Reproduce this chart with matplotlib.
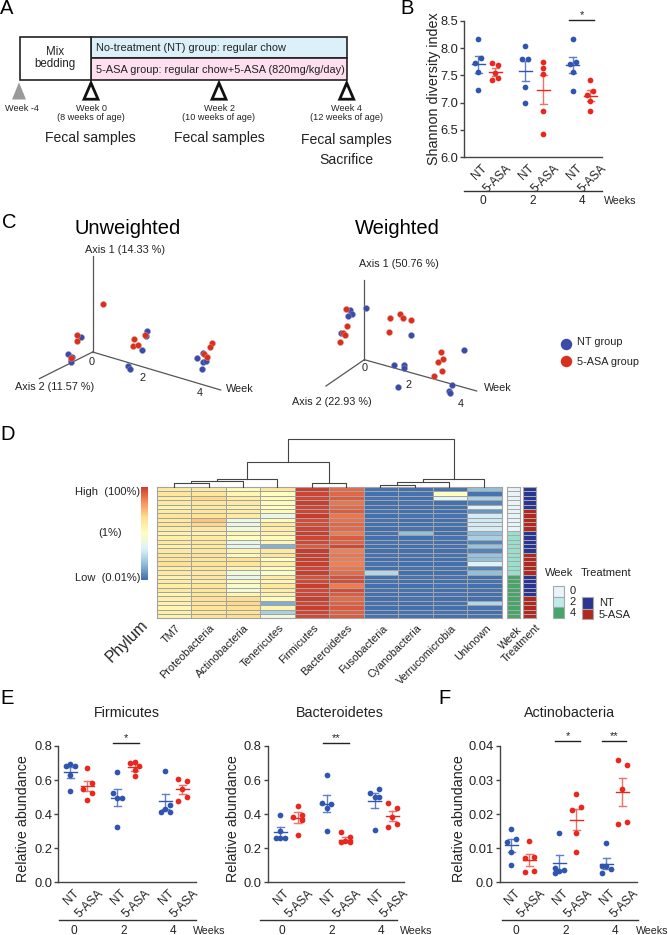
import numpy as np
import matplotlib
matplotlib.use("Agg")
import matplotlib.pyplot as plt
from matplotlib.colors import LinearSegmentedColormap, ListedColormap
from matplotlib.patches import Polygon, Rectangle

plt.rcParams["font.family"] = ["Liberation Sans", "DejaVu Sans"]

W, H = 668, 935
BLUE = "#2F55B0"
RED = "#E8281F"
BLUE_ERR = "#5F7FC8"
RED_ERR = "#F0706A"
TXT = "#222222"

# ---- data ----
group_labels = ["NT", "5-ASA", "NT", "5-ASA", "NT", "5-ASA"]
week_labels = ["0", "2", "4"]

shannon = [[8.16, 7.82, 7.72, 7.56, 7.23], [7.73, 7.69, 7.54, 7.45, 7.41],
           [8.03, 7.79, 7.79, 7.28, 7.00], [7.75, 7.63, 7.52, 6.85, 6.42],
           [8.17, 7.75, 7.71, 7.57, 7.22], [7.41, 7.21, 7.14, 7.03, 6.84]]
shannon_mean = [7.70, 7.56, 7.58, 7.24, 7.69, 7.13]
shannon_err = [0.15, 0.07, 0.19, 0.26, 0.15, 0.10]
shannon_jit = [[0, 3, -3, 0, 0], [-3, 3, 0, 3, -3], [0, -3, 3, 0, 0],
               [0, 0, 0, 0, 0], [0, 3, -3, 0, 0], [0, 3, -3, 0, 0]]

firmicutes = [[0.68, 0.695, 0.68, 0.63, 0.535], [0.67, 0.58, 0.55, 0.525, 0.485],
              [0.645, 0.525, 0.495, 0.495, 0.325], [0.70, 0.705, 0.68, 0.66, 0.625],
              [0.655, 0.455, 0.43, 0.415, 0.415], [0.605, 0.595, 0.545, 0.50, 0.475]]
firmicutes_mean = [0.645, 0.565, 0.497, 0.675, 0.475, 0.545]
firmicutes_err = [0.03, 0.03, 0.05, 0.02, 0.045, 0.025]
firmicutes_jit = [[-4.5, 0, 4.5, 0, 0], [0, 4.5, -4.5, 4.5, 0], [0, -4.5, 0, 4.5, 0],
                  [-4.5, 0, 4.5, 0, 0], [0, 4.5, 0, -4.5, 4.5], [-4.5, 4.5, 0, 4.5, -4.5]]

bacteroidetes = [[0.395, 0.30, 0.26, 0.26, 0.26], [0.445, 0.395, 0.385, 0.365, 0.28],
                 [0.63, 0.465, 0.46, 0.435, 0.30], [0.295, 0.265, 0.24, 0.235, 0.235],
                 [0.545, 0.525, 0.50, 0.50, 0.305], [0.465, 0.435, 0.385, 0.345, 0.325]]
bacteroidetes_mean = [0.295, 0.38, 0.46, 0.25, 0.48, 0.39]
bacteroidetes_err = [0.03, 0.03, 0.05, 0.015, 0.045, 0.03]
bacteroidetes_jit = [[0, 0, -4.5, 0, 4.5], [0, 4.5, -4.5, 4.5, 0], [0, -4.5, 4.5, 0, 0],
                     [-4.5, 4.5, 0, -4.5, 4.5], [4.5, -4.5, 0, 4.5, 0], [-4.5, 4.5, 0, 4.5, -4.5]]

actino = [[0.0155, 0.0128, 0.0118, 0.0088, 0.005], [0.0122, 0.0075, 0.0072, 0.0032, 0.003],
          [0.0146, 0.0043, 0.0036, 0.0034, 0.0028], [0.0258, 0.022, 0.0212, 0.0144, 0.0089],
          [0.0115, 0.0049, 0.0049, 0.0038, 0.0028], [0.036, 0.0345, 0.0274, 0.0178, 0.017]]
actino_mean = [0.0108, 0.0066, 0.0057, 0.0184, 0.0055, 0.0265]
actino_err = [0.0018, 0.0017, 0.0023, 0.003, 0.0016, 0.004]
actino_jit = [[0, 4.5, -4.5, 0, 0], [0, 4.5, -4.5, 4.5, -4.5], [0, -4.5, 4.5, 0, -4.5],
              [0, 4.5, -4.5, 0, 0], [0, -4.5, 0, 4.5, -4.5], [-4.5, 4.5, 0, 4.5, -4.5]]

# projected PCoA scores, in picture units of each plot
unw_blue_x = [242, 203, 215, 212, 214, 442, 438, 427, 384, 390, 610, 591, 608, 619, 607]
unw_blue_y = [396, 447, 455, 465, 471, 377, 393, 436, 484, 492, 445, 459, 470, 467, 493]
unw_red_x = [308, 231, 232, 213, 402, 400, 415, 434, 637, 631, 613, 620]
unw_red_y = [296, 389, 409, 459, 401, 422, 419, 389, 414, 426, 447, 455]
w_blue_x = [258, 209, 217, 204, 182, 393, 553, 341, 371, 371, 354, 517, 508, 509]
w_blue_y = [308, 315, 326, 333, 383, 391, 434, 481, 480, 489, 545, 540, 557, 565]
w_red_x = [198, 201, 190, 194, 179, 361, 370, 330, 394, 327, 482, 488, 474, 487, 463]
w_red_y = [313, 363, 383, 391, 411, 328, 340, 338, 346, 381, 440, 461, 471, 497, 513]

phyla = ["TM7", "Proteobacteria", "Actinobacteria", "Tenericutes", "Firmicutes",
         "Bacteroidetes", "Fusobacteria", "Cyanobacteria", "Verrucomicrobia", "Unknown"]
tm7 = [.61, .63, .59, .61, .57, .60, .63, .61, .64, .60, .57, .58, .61, .57, .61,
       .63, .64, .65, .59, .61, .57, .60, .58, .61, .55, .58, .57, .55, .58, .57]
proteo = [.61, .63, .68, .63, .61, .63, .65, .72, .68, .61, .57, .60, .63, .61, .63,
          .65, .63, .65, .63, .61, .63, .60, .63, .64, .63, .66, .65, .64, .63, .65]
actinob = [.53, .55, .59, .61, .57, .59, .60, .40, .38, .42, .55, .50, .38, .36, .57,
           .53, .65, .63, .56, .42, .38, .53, .46, .44, .55, .67, .68, .66, .65, .67]
teneri = [.63, .50, .53, .53, .50, .53, .38, .53, .61, .59, .57, .53, .55, .14, .61,
          .63, .50, .59, .53, .48, .60, .55, .61, .59, .57, .53, .13, .56, .22, .42]
firmi = [.99, .98, .97, .99, .98, .98, 1.0, .96, .96, .98, .99, .98, .97, .93, 1.0,
         .99, .99, .99, .98, .99, .95, .97, .99, .97, .98, .99, .97, .99, .98, .97]
bacte = [.90, .91, .93, .88, .90, .93, .88, .89, .91, .90, .87, .93, .92, .97, .86,
         .88, .87, .86, .88, .90, .95, .96, .87, .96, .93, .90, .92, .94, .92, .93]
fuso = [.01, .00, .01, .00, .00, .01, .00, .01, .00, .00, .01, .00, .01, .00, .00,
        .01, .00, .01, .00, .24, .00, .01, .00, .01, .00, .00, .01, .00, .00, .01]
cyano = [.00, .01, .00, .01, .00, .00, .01, .00, .00, .01, .17, .00, .01, .00, .00,
         .01, .00, .00, .01, .00, .01, .00, .00, .01, .00, .01, .00, .00, .01, .00]
verru = [.01, .50, .36, .00, .01, .00, .01, .00, .01, .00, .00, .01, .00, .01, .00,
         .01, .00, .00, .01, .00, .01, .00, .01, .00, .01, .00, .01, .00, .01, .00]
unknown = [.17, .01, .22, .04, .33, .08, .31, .30, .31, .31, .17, .22, .04, .18, .04,
           .18, .17, .33, .04, .17, .00, .01, .00, .01, .00, .00, .24, .01, .00, .01]
heat_columns = [tm7, proteo, actinob, teneri, firmi, bacte, fuso, cyano, verru, unknown]

week_rows = [0, 0, 0, 0, 0, 0, 0, 0, 0, 0, 1, 1, 1, 1, 1,
             1, 1, 1, 1, 1, 2, 2, 2, 2, 2, 2, 2, 2, 2, 2]
treatment_rows = [0, 0, 0, 0, 0, 1, 1, 1, 1, 1, 0, 0, 0, 0, 0,
                  1, 1, 1, 1, 1, 0, 0, 0, 0, 0, 1, 1, 1, 1, 1]

# ---- canvas ----
fig = plt.figure(figsize=(W / 100, H / 100), dpi=100)


def axes_px(left, top, right, bottom, **kw):
    return fig.add_axes([left / W, 1 - bottom / H, (right - left) / W, (bottom - top) / H], **kw)


over = axes_px(0, 0, W, H)
over.set_xlim(0, W)
over.set_ylim(H, 0)
over.axis("off")
over.set_zorder(5)
over.patch.set_alpha(0)


def label(x, y, s, size=8, ha="center", va="center", color=TXT, **kw):
    over.text(x, y, s, fontsize=size, ha=ha, va=va, color=color, **kw)


for letter, lx, ly in [("A", 0, 8), ("B", 400, 8), ("C", 2, 223), ("D", 0, 435), ("E", 0, 699), ("F", 438, 698)]:
    label(lx, ly, letter, size=14.5, ha="left", color="black")

# ---- A: schedule ----
over.add_patch(Rectangle((91, 36.7), 255.7, 21.6, fc="#DBF0F9", ec="#222222", lw=1.2))
over.add_patch(Rectangle((91, 58.3), 255.7, 22, fc="#FDDFF0", ec="#222222", lw=1.2))
over.add_patch(Rectangle((19.7, 36.7), 71.3, 43.6, fc="white", ec="#222222", lw=1.2))
label(54.7, 58, "Mix\nbedding", size=8.3, linespacing=0.95)
label(95.7, 47.7, "No-treatment (NT) group: regular chow", size=7.9, ha="left")
label(95.7, 70.3, "5-ASA group: regular chow+5-ASA (820mg/kg/day)", size=7.9, ha="left")
over.add_patch(Polygon([(19, 82.3), (12, 99.5), (26, 99.5)], fc="#9A9A9A", ec="none"))
for tx in [91, 219, 346.7]:
    over.add_patch(Polygon([(tx, 83), (tx - 7, 99.2), (tx + 7, 99.2)], fc="white", ec="#111111", lw=2))
label(22.3, 108.7, "Week -4", size=6.6)
for tx, wk, age in [(91, "Week 0", "(8 weeks of age)"), (219, "Week 2", "(10 weeks of age)"),
                    (346.7, "Week 4", "(12 weeks of age)")]:
    label(tx, 108.7, wk, size=6.6)
    label(tx, 118, age, size=6.6)
label(90, 138, "Fecal samples", size=10.1)
label(219, 138, "Fecal samples", size=10.1)
label(346.7, 140, "Fecal samples", size=10.1)
label(346.7, 159.7, "Sacrifice", size=10.1)


# ---- scatter panels with SEM bars ----
def dot_panel(left, top, right, bottom, ymax, ticks, ticklabels, xpos, values, means, errs, jits, sig):
    ax = axes_px(left, top, right, bottom)
    ax.set_xlim(left, right)
    ax.set_ylim(ticks[0], ymax)
    ax.patch.set_alpha(0)
    for i in range(6):
        col, ecol = (BLUE, BLUE_ERR) if i % 2 == 0 else (RED, RED_ERR)
        xs = [xpos[i] + j for j in jits[i]]
        ax.scatter(xs, values[i], s=17, color=col, zorder=3, linewidths=0, clip_on=False)
        ax.plot([xpos[i] - 6.5, xpos[i] + 6.5], [means[i], means[i]], color=col, lw=1, zorder=4)
        ax.plot([xpos[i], xpos[i]], [means[i] - errs[i], means[i] + errs[i]], color=ecol, lw=1, zorder=2)
        for sgn in (-1, 1):
            yy = means[i] + sgn * errs[i]
            ax.plot([xpos[i] - 3.5, xpos[i] + 3.5], [yy, yy], color=ecol, lw=1, zorder=2)
    for sp in ("top", "right"):
        ax.spines[sp].set_visible(False)
    for sp in ("left", "bottom"):
        ax.spines[sp].set_color("#444444")
        ax.spines[sp].set_linewidth(1)
    ax.set_yticks(ticks)
    ax.set_yticklabels(ticklabels, fontsize=9.3, color=TXT)
    ax.tick_params(axis="y", length=3, width=1, color="#444444", pad=1.5)
    # the rotated labels end a little right of their dots
    ax.set_xticks([p + (3 if i % 2 == 0 else 10) for i, p in enumerate(xpos)])
    ax.set_xticklabels(group_labels, fontsize=8.6, color=TXT, rotation=45, ha="right", rotation_mode="anchor")
    ax.tick_params(axis="x", length=0, pad=4)
    for i0, ybar, star in sig:
        ax.plot([xpos[i0] - 4, xpos[i0 + 1] + 4], [ybar, ybar], color="#222222", lw=1, clip_on=False)
        ax.text((xpos[i0] + xpos[i0 + 1]) / 2, ybar, star, fontsize=8, ha="center", va="bottom", color=TXT)
    return ax


dot_panel(464.3, 20.7, 601.7, 157.3, 8.5, [6.0, 6.5, 7.0, 7.5, 8.0, 8.5],
          ["6.0", "6.5", "7.0", "7.5", "8.0", "8.5"], [478, 495, 525, 543, 572.7, 590.3],
          shannon, shannon_mean, shannon_err, shannon_jit, [(4, 8.52, "*")])
over.text(434, 89, "Shannon diversity index", fontsize=10.3, rotation=90, ha="center", va="center", color=TXT)
over.plot([464, 601.7], [191.3, 191.3], color="#333333", lw=1)
for tx, s in zip([483, 533, 582], week_labels):
    label(tx, 200.7, s, size=8.6)
label(620, 200.7, "Weeks", size=7.7)

abund_ticks = [0.0, 0.2, 0.4, 0.6, 0.8]
abund_labels = ["0.0", "0.2", "0.4", "0.6", "0.8"]
dot_panel(58.3, 746, 195.7, 882.3, 0.8, abund_ticks, abund_labels, [70.3, 87, 117, 134.7, 165, 182],
          firmicutes, firmicutes_mean, firmicutes_err, firmicutes_jit, [(2, 0.82, "*")])
dot_panel(267.7, 746, 404, 882.3, 0.8, abund_ticks, abund_labels, [280, 297.7, 326.7, 345, 374.7, 392.3],
          bacteroidetes, bacteroidetes_mean, bacteroidetes_err, bacteroidetes_jit, [(2, 0.82, "**")])
dot_panel(500, 746, 636.7, 882.3, 0.04, [0.0, 0.01, 0.02, 0.03, 0.04],
          ["0.0", "0.01", "0.02", "0.03", "0.04"], [511.3, 529, 559.3, 576, 606, 622],
          actino, actino_mean, actino_err, actino_jit, [(2, 0.0415, "*"), (4, 0.0415, "**")])

for tx, ttl in [(126.7, "Firmicutes"), (340, "Bacteroidetes"), (570, "Actinobacteria")]:
    label(tx, 713, ttl, size=10.3)
for tx in [23, 232.7, 459.3]:
    over.text(tx, 818.5, "Relative abundance", fontsize=10.3, rotation=90, ha="center", va="center", color=TXT)
for x0, x1, xs, xw in [(59, 195.7, [74, 124, 173], 209), (260, 396.7, [282, 331.7, 381], 416.7),
                       (501.7, 638, [516, 566, 615], 652)]:
    over.plot([x0, x1], [920, 920], color="#333333", lw=1)
    for tx, s in zip(xs, week_labels):
        label(tx, 930.5, s, size=8.6)
    label(xw, 930.5, "Weeks", size=7.7)


# ---- C: PCoA ----
def pcoa(left, right, zw):
    ax = axes_px(left, 205, right, 420)
    ax.set_xlim(0, zw)
    ax.set_ylim(645, 0)
    ax.axis("off")
    return ax


ax_u = pcoa(0, 340, 1020)
for p, q in [((278, 153), (278, 441)), ((278, 441), (118, 521)), ((278, 441), (662, 555))]:
    ax_u.plot([p[0], q[0]], [p[1], q[1]], color="#555555", lw=0.9)
ax_u.scatter(unw_blue_x, unw_blue_y, s=19, color="#3B4BA8", edgecolors="#8C93C8", linewidths=0.3, zorder=3)
ax_u.scatter(unw_red_x, unw_red_y, s=19, color="#D9301E", edgecolors="#E89488", linewidths=0.3, zorder=4)
label(127.7, 228, "Unweighted", size=14.5, color="black")
label(125, 250, "Axis 1 (14.33 %)", size=7.8)
label(92, 361.7, "0", size=7.8)
label(142.7, 378, "2", size=7.8)
label(200, 392.7, "4", size=7.8)
label(240, 389, "Week", size=7.8)
label(54.7, 387, "Axis 2 (11.57 %)", size=7.8)

ax_w = pcoa(280, 668, 1164)
for p, q in [((253, 225), (253, 464)), ((253, 464), (138, 543)), ((253, 464), (590, 558))]:
    ax_w.plot([p[0], q[0]], [p[1], q[1]], color="#555555", lw=0.9)
ax_w.scatter(w_blue_x, w_blue_y, s=19, color="#3B4BA8", edgecolors="#8C93C8", linewidths=0.3, zorder=3)
ax_w.scatter(w_red_x, w_red_y, s=19, color="#D9301E", edgecolors="#E89488", linewidths=0.3, zorder=4)
ax_w.scatter([857], [416], s=68, color="#3B4BA8", linewidths=0)
ax_w.scatter([857], [469], s=68, color="#D9301E", linewidths=0)
label(397.3, 228, "Weighted", size=14.5, color="black")
label(399, 263.7, "Axis 1 (50.76 %)", size=7.8)
label(364.7, 368.3, "0", size=7.8)
label(409, 384.7, "2", size=7.8)
label(460.3, 403.7, "4", size=7.8)
label(498.3, 388.3, "Week", size=7.8)
label(332, 402.3, "Axis 2 (22.93 %)", size=7.8)
label(576.7, 342.3, "NT group", size=7.8, ha="left")
label(576.7, 362, "5-ASA group", size=7.8, ha="left")

# ---- D: heatmap ----
heat_cmap = LinearSegmentedColormap.from_list(
    "rb", ["#4370AE", "#91BFDB", "#E0F3F8", "#FFFFBF", "#FEE090", "#F98E5C", "#C93A2C"])
heat = np.array(heat_columns).T
ax_h = axes_px(156.7, 487, 501.7, 618.3)
ax_h.pcolormesh(heat, cmap=heat_cmap, vmin=0, vmax=1, edgecolors="#A3A3A3", linewidth=0.55)
ax_h.set_ylim(30, 0)
ax_h.set_xticks([])
ax_h.set_yticks([])
for sp in ax_h.spines.values():
    sp.set_color("#A3A3A3")


def side_bar(left, right, rows, colors):
    ax = axes_px(left, 487, right, 618.3)
    ax.pcolormesh(np.array(rows).reshape(-1, 1), cmap=ListedColormap(colors), vmin=0, vmax=len(colors) - 1,
                  edgecolors="#A8A8A8", linewidth=0.45)
    ax.set_ylim(30, 0)
    ax.set_xticks([])
    ax.set_yticks([])
    for sp in ax.spines.values():
        sp.set_color("#A8A8A8")


side_bar(507.3, 520, week_rows, ["#E8F4F8", "#98E0CC", "#47A56A"])
side_bar(523.3, 536, treatment_rows, ["#283593", "#B2281E"])

ax_cb = axes_px(141, 486.7, 147.3, 580)
ax_cb.imshow(np.linspace(1, 0, 100).reshape(-1, 1), cmap=heat_cmap, aspect="auto")
ax_cb.axis("off")
label(74.7, 492, "High  (100%)", size=8, ha="left")
label(98, 533, "(1%)", size=8, ha="left")
label(74.7, 578, "Low  (0.01%)", size=8, ha="left")

col_w = (501.7 - 156.7) / 10
for i, name in enumerate(phyla):
    label(156.7 + col_w * (i + 0.5) + 1, 623, name, size=7.8, ha="right", va="top",
          rotation=45, rotation_mode="anchor")
label(517, 625, "Week", size=7.8, ha="right", va="top", rotation=45, rotation_mode="anchor")
label(535.5, 622, "Treatment", size=7.8, ha="right", va="top", rotation=45, rotation_mode="anchor")
label(127, 641, "Phylum", size=11.3, rotation=45)

dendro = [
    ([288.3, 288.3, 453.7, 453.7], [462, 438.7, 438.7, 478.7]),
    ([247.3, 247.3, 329.3, 329.3], [479.3, 462, 462, 483.3]),
    ([217.3, 217.3, 277.3, 277.3], [481.3, 479.3, 479.3, 487]),
    ([191.3, 191.3, 243, 243], [483.3, 481.3, 481.3, 487]),
    ([174, 174, 208.7, 208.7], [487, 483.3, 483.3, 487]),
    ([311.7, 311.7, 346.3, 346.3], [487, 483.3, 483.3, 487]),
    ([423.3, 423.3, 484, 484], [481.7, 478.7, 478.7, 487]),
    ([397.3, 397.3, 449.3, 449.3], [485, 481.7, 481.7, 487]),
    ([380.3, 380.3, 415.3, 415.3], [487, 485, 485, 487]),
]
for dx, dy in dendro:
    over.plot(dx, dy, color="#444444", lw=0.8)

label(545, 573, "Week", size=8, ha="left")
label(581, 573.5, "Treatment", size=8, ha="left")
for y0, y1, c, s in [(585.7, 596.7, "#E8F4F8", "0"), (596.7, 607.3, "#BDEBEB", "2"), (607.3, 618.3, "#47A56A", "4")]:
    over.add_patch(Rectangle((553.3, y0), 11, y1 - y0, fc=c, ec="#A8A8A8", lw=0.8))
    label(572.5, (y0 + y1) / 2, s, size=8)
for y0, y1, c, s in [(597.3, 608.7, "#283593", "NT"), (608.7, 619.3, "#B2281E", "5-ASA")]:
    over.add_patch(Rectangle((582, y0), 11.3, y1 - y0, fc=c, ec="#A8A8A8", lw=0.8))
    label(598.7, (y0 + y1) / 2 + 0.5, s, size=8, ha="left")

fig.savefig("out.png", dpi=100)
